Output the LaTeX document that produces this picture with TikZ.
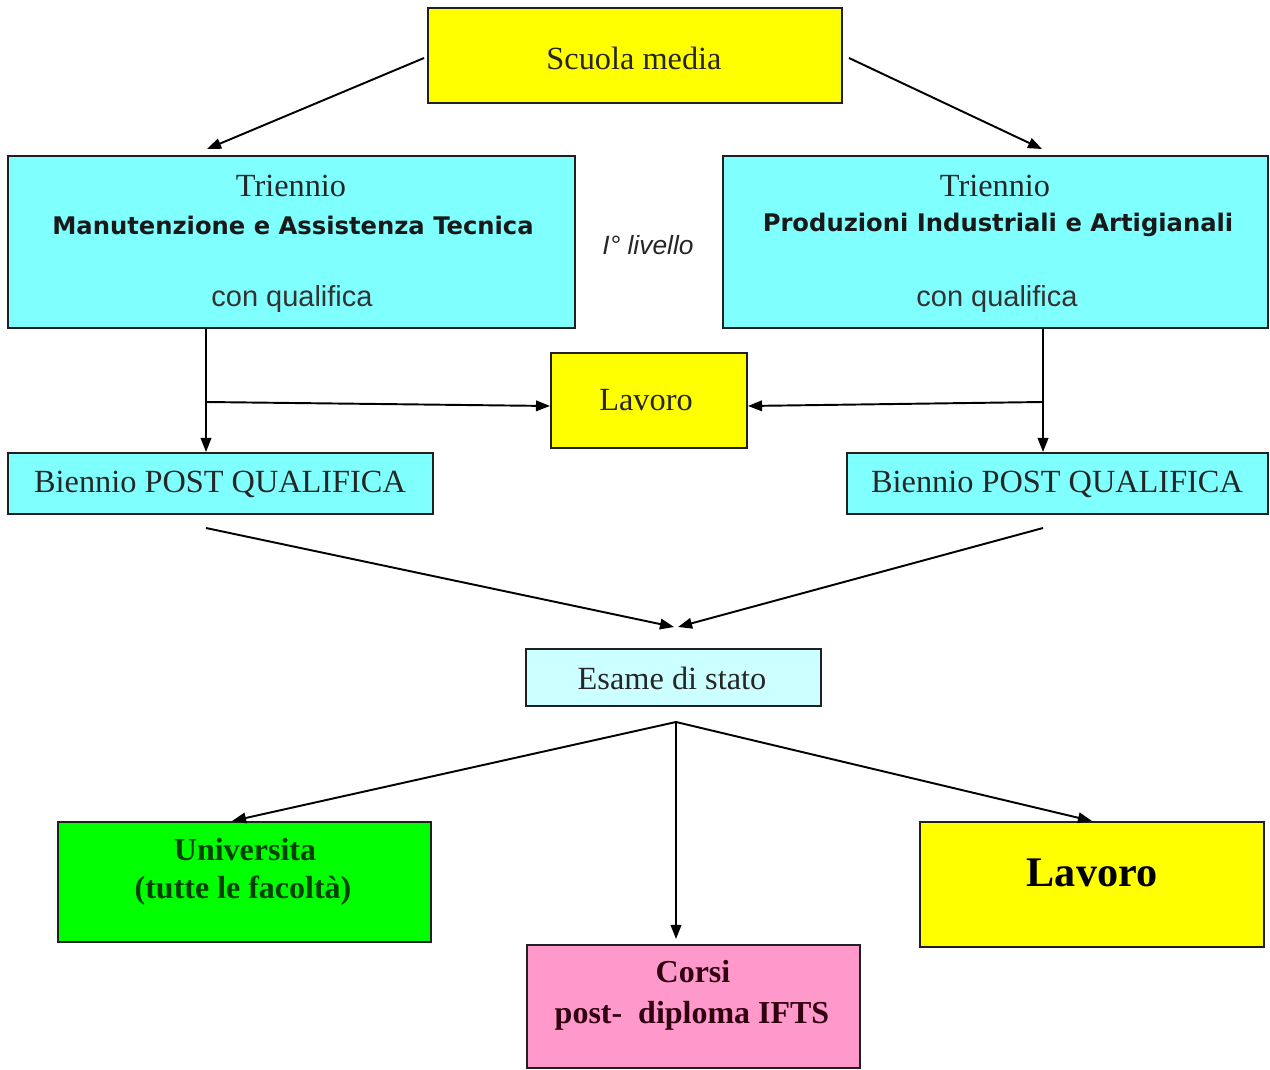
\documentclass[tikz,border=0pt]{standalone}
\usepackage{fontspec}
\setmainfont{Liberation Serif}
\newfontfamily\boldsans{DejaVu Sans}
\newfontfamily\plainsans{Liberation Sans}
\usetikzlibrary{arrows.meta,calc}
\definecolor{cYellow}{HTML}{FFFF00}
\definecolor{cCyan}{HTML}{80FFFF}
\definecolor{cLightCyan}{HTML}{CCFFFF}
\definecolor{cGreen}{HTML}{00FF00}
\definecolor{cPink}{HTML}{FF99CC}
\definecolor{cDarkGreen}{HTML}{004000}
\definecolor{cMaroon}{HTML}{300010}
\definecolor{cLine}{HTML}{202020}
\tikzset{
  box/.style={draw=cLine, line width=1.1pt, inner sep=0pt},
  serif/.style={font=\fontsize{18.4}{22}\selectfont, text=black!85},
  bserif/.style={font=\fontsize{18.2}{22}\selectfont\bfseries},
  bsans/.style={font=\boldsans\fontsize{13.8}{16}\selectfont\bfseries, text=black!90},
  rsans/.style={font=\plainsans\fontsize{16.5}{20}\selectfont, text=black!80},
  arr/.style={draw=black, line width=1.1pt, -{Triangle[length=8pt,width=6pt]}},
  ln/.style={draw=black, line width=1.1pt}
}
\begin{document}
\begin{tikzpicture}[x=0.02cm,y=-0.02cm]
\useasboundingbox (0,0) rectangle (1270,1070);
% boxes
\node[box, fill=cYellow, minimum width=414*0.02cm, minimum height=95*0.02cm] (scuola) at (635,55.5) {};
\node[serif] (scuolaT) at (634,58) {Scuola media};

\node[box, fill=cCyan, minimum width=567*0.02cm, minimum height=172*0.02cm] (triL) at (291.5,242) {};
\node[serif] (triLa) at (291,186) {Triennio};
\node[bsans] (triLb) at (293,225) {Manutenzione e Assistenza Tecnica};
\node[rsans] (triLc) at (292,299) {con qualifica};

\node[box, fill=cCyan, minimum width=545*0.02cm, minimum height=172*0.02cm] (triR) at (995.5,242) {};
\node[serif] (triRa) at (995,186) {Triennio};
\node[bsans] (triRb) at (998,225) {Produzioni Industriali e Artigianali};
\node[rsans] (triRc) at (997,299) {con qualifica};

\node[font=\plainsans\itshape\fontsize{15}{18}\selectfont, text=black!85] (livello) at (648,245) {I° livello};

\node[box, fill=cYellow, minimum width=196*0.02cm, minimum height=95*0.02cm] (lav1) at (649,400.5) {};
\node[serif] (lav1T) at (646,400) {Lavoro};

\node[box, fill=cCyan, minimum width=425*0.02cm, minimum height=61*0.02cm] (bienL) at (220.5,483.5) {};
\node[serif] (bienLT) at (220,484) {Biennio POST QUALIFICA};
\node[box, fill=cCyan, minimum width=421*0.02cm, minimum height=61*0.02cm] (bienR) at (1057.5,483.5) {};
\node[serif] (bienRT) at (1057,484) {Biennio POST QUALIFICA};

\node[box, fill=cLightCyan, minimum width=295*0.02cm, minimum height=57*0.02cm] (esame) at (673.5,677.5) {};
\node[serif] (esameT) at (672,678) {Esame di stato};

\node[box, fill=cGreen, minimum width=373*0.02cm, minimum height=120*0.02cm] (univ) at (244.5,882) {};
\node[bserif, text=cDarkGreen] (univA) at (245,850) {Universita};
\node[bserif, text=cDarkGreen] (univB) at (243,891) {(tutte le facoltà)};

\node[box, fill=cPink, minimum width=333*0.02cm, minimum height=123*0.02cm] (corsi) at (693.5,1006.5) {};
\node[bserif, text=cMaroon] (corsiA) at (693,972) {Corsi};
\node[bserif, text=cMaroon] (corsiB) at (692,1016) {post-\ \ diploma IFTS};

\node[box, fill=cYellow, minimum width=344*0.02cm, minimum height=125*0.02cm] (lav2) at (1092,884.5) {};
\node[font=\fontsize{24}{28}\selectfont\bfseries] (lav2T) at (1092,873) {Lavoro};

% connector points
\coordinate (sL) at ($(scuola.west)+(-3,2.5)$);
\coordinate (sR) at ($(scuola.east)+(6,2.5)$);
\coordinate (tL) at ($(triL.north west)+(200,-6)$);
\coordinate (tR) at ($(triR.north west)+(320,-6)$);
\coordinate (vL) at (triL.south -| 206,0);
\coordinate (jL) at (206,402);
\coordinate (vR) at (triR.south -| 1043,0);
\coordinate (jR) at (1043,402);
\coordinate (bL) at (206,528);
\coordinate (bR) at (1043,528);
\coordinate (meet) at (676,627);
\coordinate (eS) at (676,722);

\draw[arr] (sL) -- (tL);
\draw[arr] (sR) -- (tR);
\draw[arr] (vL) -- (bienL.north -| vL);
\draw[arr] (jL) -- (lav1.west |- 0,406);
\draw[arr] (vR) -- (bienR.north -| vR);
\draw[arr] (jR) -- (lav1.east |- 0,406);
\draw[arr] (bL) -- ($(meet)+(-2,0)$);
\draw[arr] (bR) -- ($(meet)+(2,0)$);
\draw[arr] (eS) -- (univ.north -| 232,0);
\draw[arr] (eS) -- ($(corsi.north -| eS)+(0,-5)$);
\draw[arr] (eS) -- (lav2.north);
\end{tikzpicture}
\end{document}
